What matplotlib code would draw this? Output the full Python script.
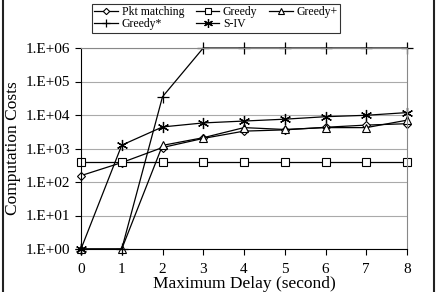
import numpy as np
import matplotlib
matplotlib.use("Agg")
import matplotlib.pyplot as plt
from matplotlib.lines import Line2D

plt.rcParams['font.family'] = ['Liberation Serif', 'DejaVu Serif']

# Maximum delay (second)
delay = [0, 1, 2, 3, 4, 5, 6, 7, 8]

# Computation costs per algorithm
pkt_matching = [155, 380, 1070, 2000, 3300, 3600, 4300, 5000, 5500]
greedy = [400, 400, 400, 400, 400, 400, 400, 400, 400]
greedy_plus = [1, 1, 1240, 2100, 4200, 3700, 4200, 4200, 7000]
greedy_star = [1, 1, 35000, 1e6, 1e6, 1e6, 1e6, 1e6, 1e6]
s_iv = [1, 1260, 4400, 5800, 6600, 7500, 8900, 9800, 11800]

yticks = [1e0, 1e1, 1e2, 1e3, 1e4, 1e5, 1e6]
ytick_labels = ['1.E+00', '1.E+01', '1.E+02', '1.E+03', '1.E+04', '1.E+05', '1.E+06']

fig = plt.figure(figsize=(4.38, 2.92), dpi=100)
ax = fig.add_axes([81 / 438, 1 - 249 / 292, (407 - 81) / 438, (249 - 48) / 292])

lw = 0.9
h_pkt, = ax.plot(delay, pkt_matching, '-', color='black', lw=lw, marker='D', ms=4,
                 mfc='white', mec='black', mew=0.8, label='Pkt matching', clip_on=False)
h_gr, = ax.plot(delay, greedy, '-', color='black', lw=lw, marker='s', ms=5.5,
                mfc='white', mec='black', mew=0.8, label='Greedy', clip_on=False)
h_grp, = ax.plot(delay, greedy_plus, '-', color='black', lw=lw, marker='^', ms=6,
                 mfc='white', mec='black', mew=0.8, label='Greedy+', clip_on=False)
h_grs, = ax.plot(delay, greedy_star, '-', color='black', lw=lw, marker='+', ms=8,
                 mec='black', mew=0.9, label='Greedy*', clip_on=False)
h_siv, = ax.plot(delay, s_iv, '-', color='black', lw=lw, marker=(6, 2, 0), ms=8,
                 mec='black', mew=0.9, label='S-IV', clip_on=False)

ax.set_yscale('log')
ax.set_ylim(1, 1e6)
ax.set_xlim(0, 8)
ax.set_yticks(yticks)
ax.set_yticklabels(ytick_labels)
ax.minorticks_off()
ax.set_xticks(delay)
ax.yaxis.grid(True, color='#aaaaaa', lw=0.8)
ax.set_axisbelow(True)

for s in ['top', 'right']:
    ax.spines[s].set_color('#888888')
for s in ['left', 'bottom']:
    ax.spines[s].set_color('black')
ax.tick_params(axis='both', labelsize=11, length=4, width=0.8, direction='out')
ax.tick_params(axis='x', pad=6)

ax.set_xlabel('Maximum Delay (second)', fontsize=12.5, labelpad=0)
ax.set_ylabel('Computation Costs', fontsize=12.5, labelpad=4)

# order so the legend reads row by row
handles = [h_pkt, h_grs, h_gr, h_siv, h_grp]
leg = fig.legend(handles=handles, labels=[h.get_label() for h in handles],
                 loc='upper left', bbox_to_anchor=(92 / 438, 1 - 4 / 292),
                 ncol=3, fontsize=8.5, frameon=True, fancybox=False,
                 edgecolor='black', handlelength=2.0, handletextpad=0.3,
                 columnspacing=1.0, borderpad=0.2, labelspacing=0.0,
                 borderaxespad=0, markerscale=0.8)
leg.get_frame().set_linewidth(0.8)

# side borders of the figure
fig.add_artist(Line2D([2.5 / 438, 2.5 / 438], [0, 1], color='#222222', lw=1.5))
fig.add_artist(Line2D([434 / 438, 434 / 438], [0, 1], color='#222222', lw=1.5))

fig.savefig('out.png', dpi=100)
